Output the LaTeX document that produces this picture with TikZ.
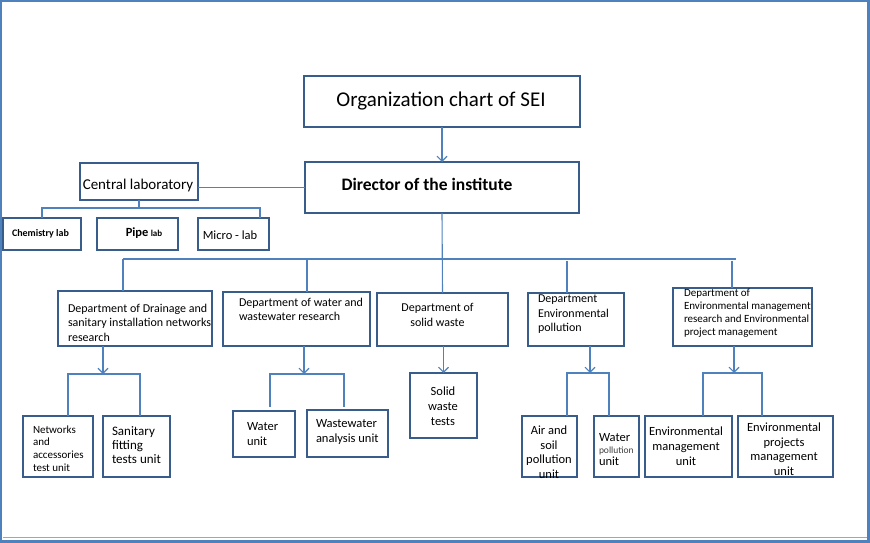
\documentclass[tikz,border=0pt]{standalone}
\usepackage{fontspec}
\setmainfont{Carlito}
\usetikzlibrary{arrows.meta,fit,calc}
\definecolor{frameblue}{HTML}{4F81BD}
\definecolor{boxline}{HTML}{385D8A}
\definecolor{connblue}{HTML}{4F81BD}
\newcommand\fsz[2]{\fontsize{#1}{#2}\selectfont}
\begin{document}
\begin{tikzpicture}[x=1pt,y=-1pt,
  box/.style={draw=boxline, line width=2pt, inner sep=0pt, outer sep=0pt},
  conn/.style={draw=connblue, line width=1.1pt},
  arr/.style={conn, -{Straight Barb[length=5pt,width=10pt]}},
  txt/.style={inner sep=0pt, outer sep=0pt, align=left, text=black},
  ctxt/.style={inner sep=0pt, outer sep=0pt, align=center, text=black}]
\useasboundingbox (0,0) rectangle (870,543);
% frame
\draw[frameblue, line width=2.5pt] (1.2,1.2) rectangle (868.6,541.6);
\draw[black!35, line width=0.8pt] (2.5,537.6) -- (867,537.6);

% boxes
\node[box, fit={(304,76) (580,127)}] (title) {};
\node[box, fit={(305,162) (579,213)}] (dir) {};
\node[box, fit={(80,163) (198,200)}] (cl) {};
\node[box, fit={(3,218) (81,250)}] (chem) {};
\node[box, fit={(97,218) (178,250)}] (pipe) {};
\node[box, fit={(198,218) (269,250)}] (micro) {};
\node[box, fit={(58,291) (212,346)}] (d1) {};
\node[box, fit={(223,292) (370,346)}] (d2) {};
\node[box, fit={(377,293) (508,346)}] (d3) {};
\node[box, fit={(528,293) (624,346)}] (d4) {};
\node[box, fit={(673,288) (812,346)}] (d5) {};
\node[box, fit={(23,416) (93,477)}] (u11) {};
\node[box, fit={(103,416) (170,477)}] (u12) {};
\node[box, fit={(233,411) (295,457)}] (u21) {};
\node[box, fit={(307,410) (388,457)}] (u22) {};
\node[box, fit={(410,373) (477,438)}] (u3) {};
\node[box, fit={(522,416) (577,477)}] (u41) {};
\node[box, fit={(594,416) (639,477)}] (u42) {};
\node[box, fit={(645,416) (732,477)}] (u51) {};
\node[box, fit={(738,416) (833,477)}] (u52) {};

% texts
\node[ctxt, font=\fsz{21}{24}] (ttitle) at (441,101) {Organization chart of SEI};
\node[ctxt, font=\bfseries\fsz{17.5}{20}] (tdir) at (427,184) {Director of the institute};
\node[ctxt, font=\fsz{15}{18}] (tcl) at (138,185) {Central laboratory};
\node[ctxt, font=\bfseries\fsz{10}{12}] (tchem) at (40.5,234) {Chemistry lab};
\node[ctxt] (tpipe) at (144,233) {{\bfseries\fsz{12.5}{14}Pipe} {\bfseries\fsz{9}{11}lab}};
\node[ctxt, font=\fsz{12.5}{15}] (tmicro) at (230,235) {Micro - lab};

\node[txt, anchor=west, font=\fsz{12}{14.5}] (td1) at (68,322.5) {Department of Drainage and\\sanitary installation networks\\research};
\node[txt, anchor=west, font=\fsz{12}{14.5}] (td2) at (239,309.5) {Department of water and\\wastewater research};
\node[ctxt, font=\fsz{12}{14.5}] (td3) at (437.5,315) {Department of\\solid waste};
\node[txt, anchor=west, font=\fsz{12}{14.5}] (td4) at (538,314.5) {Department\\Environmental\\pollution};
\node[txt, anchor=west, font=\fsz{11}{13}] (td5) at (684,313.5) {Department of\\Environmental management\\research and Environmental\\project management};

\node[txt, anchor=west, font=\fsz{11}{12.8}] (tu11) at (33,448.5) {Networks\\and\\accessories\\test unit};
\node[txt, anchor=west, font=\fsz{13}{14}] (tu12) at (112,445) {Sanitary\\fitting\\tests unit};
\node[txt, anchor=west, font=\fsz{12.5}{15}] (tu21) at (247,434.5) {Water\\unit};
\node[txt, anchor=west, font=\fsz{12.5}{15}] (tu22) at (316,431.5) {Wastewater\\analysis unit};
\node[ctxt, font=\fsz{12.5}{15}] (tu3) at (443,406) {Solid\\waste\\tests};
\node[ctxt, font=\fsz{12.5}{14.5}] (tu41) at (549,452) {Air and\\soil\\pollution\\unit};
\node[txt, anchor=west] (tu42) at (599,450) {\fsz{12.5}{15}Water\\{\color{black!75}\fsz{9.5}{14}pollution}\\\fsz{12.5}{14}unit};
\node[ctxt, font=\fsz{12.5}{15}] (tu51) at (686,446) {Environmental\\management\\unit};
\node[ctxt, font=\fsz{12.5}{14.5}] (tu52) at (784,449) {Environmental\\projects\\management\\unit};

% connectors top
\draw[arr] (title) -- (dir);
\draw[conn] (dir.west) -- (dir.west -| cl.east);
\coordinate (lbL) at (42,208);
\coordinate (lbR) at (260,208);
\draw[conn] (cl.south) -- (cl.south |- lbL);
\draw[conn] (chem.north -| lbL) -- (lbL) -- (lbR) -- (micro.north -| lbR);

% director bus
\coordinate (busL) at (123,259);
\coordinate (busR) at (736,259);
\coordinate (b2) at (307,259);
\coordinate (b4) at (567,261);
\coordinate (b5) at (732,261);
\draw[conn] (dir.south) -- (d3.north);
\draw[conn] (busL) -- (busR);
\draw[conn] (busL) -- (busL |- d1.north);
\draw[conn] (b2) -- (b2 |- d2.north);
\draw[conn] (b4) -- (b4 |- d4.north);
\draw[conn] (b5) -- (b5 |- d5.north);

% dept 1 units
\coordinate (a1) at (103,374);
\coordinate (h1L) at (68,374);
\coordinate (h1R) at (140,374);
\draw[arr] (d1.south -| a1) -- (a1);
\draw[conn] (u11.north -| h1L) -- (h1L) -- (h1R) -- (u12.north -| h1R);
% dept 2 units
\coordinate (a2) at (304,374);
\coordinate (h2L) at (270,374);
\coordinate (h2R) at (344,374);
\draw[arr] (d2.south -| a2) -- (a2);
\draw[conn] ($(u21.north -| h2L)+(0,-4)$) -- (h2L) -- (h2R) -- ($(u22.north -| h2R)+(0,-3)$);
% dept 3 unit
\draw[arr] (d3.south -| u3.north) -- (u3.north);
% dept 4 units
\coordinate (a4) at (590,373);
\coordinate (h4L) at (567,373);
\coordinate (h4R) at (609,373);
\draw[arr] (d4.south -| a4) -- (a4);
\draw[conn] (u41.north -| h4L) -- (h4L) -- (h4R) -- (u42.north -| h4R);
% dept 5 units
\coordinate (a5) at (734,373);
\coordinate (h5L) at (703,373);
\coordinate (h5R) at (762,373);
\draw[arr] (d5.south -| a5) -- (a5);
\draw[conn] (u51.north -| h5L) -- (h5L) -- (h5R) -- (u52.north -| h5R);
\end{tikzpicture}
\end{document}
